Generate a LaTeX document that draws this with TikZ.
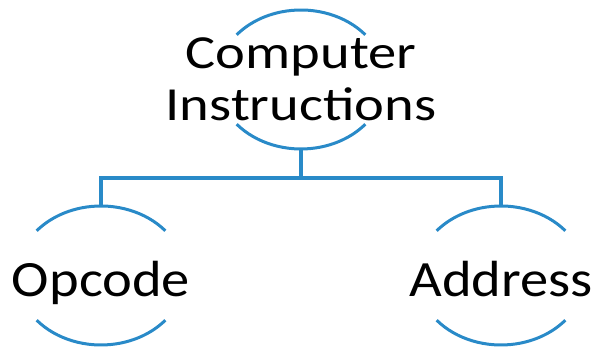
\documentclass[tikz,border=0pt]{standalone}
\usepackage{fontspec}
\setmainfont{Carlito}
\definecolor{smartblue}{RGB}{41,138,200}
\tikzset{
  ring/.style={draw=smartblue, line width=3pt},
  link/.style={draw=smartblue, line width=4pt},
  label/.style={inner sep=0pt, font=\fontsize{56.5}{62}\selectfont, transform shape}
}
\begin{document}
\begin{tikzpicture}[x=1pt, y=1pt]
  \useasboundingbox (0,0) rectangle (597,347);
  % open rings round the three labels
  \foreach \cx/\cy in {301/267.5, 101/71.5, 501/71.5} {
    \draw[ring] (\cx,\cy) ++(40:84 and 69.5) arc (40:140:84 and 69.5);
    \draw[ring] (\cx,\cy) ++(220:84 and 69.5) arc (220:320:84 and 69.5);
  }
  \node[label, yscale=0.84, align=center] (ci) at (301,267.5) {Computer\\Instructions};
  \node[label, yscale=0.9, anchor=base] (op) at (101,50) {Opcode};
  \node[label, yscale=0.9, anchor=base] (ad) at (501,50) {Address};
  \coordinate (ci-s) at (301,198);
  \coordinate (op-n) at (101,141);
  \coordinate (ad-n) at (501,141);
  \coordinate (bus) at (301,169);
  \begin{scope}[link]
    \draw (ci-s) -- (bus) -| (op-n);
    \draw (bus) -| (ad-n);
  \end{scope}
\end{tikzpicture}
\end{document}
